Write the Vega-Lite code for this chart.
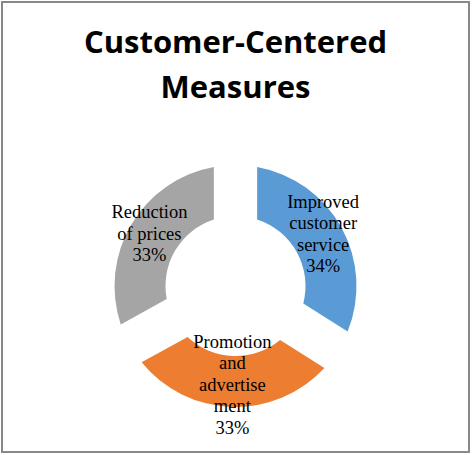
{
  "$schema": "https://vega.github.io/schema/vega-lite/v6.json",
  "width": 467,
  "height": 450,
  "autosize": "none",
  "padding": {"left": 2, "top": 2, "right": 3, "bottom": 3},
  "background": "white",
  "config": {"view": {"stroke": null}},
  "title": {
    "text": ["Customer-Centered", "Measures"],
    "font": "Open Sans",
    "fontSize": 31,
    "fontWeight": "bold",
    "color": "black",
    "lineHeight": 45,
    "anchor": "middle",
    "frame": "group",
    "baseline": "alphabetic",
    "offset": -128
  },
  "data": {
    "values": [
      {"category": "Improved customer service", "wrapped": "Improved|customer|service", "share": 34},
      {"category": "Promotion and advertisement", "wrapped": "Promotion|and|advertise|ment", "share": 33},
      {"category": "Reduction of prices", "wrapped": "Reduction|of prices", "share": 33}
    ]
  },
  "transform": [
    {"calculate": "datum.wrapped + '|' + datum.share + '%'", "as": "label"}
  ],
  "encoding": {
    "theta": {"field": "share", "type": "quantitative", "stack": true},
    "order": {"field": "category", "type": "nominal", "sort": "ascending"}
  },
  "layer": [
    {
      "mark": {"type": "rect", "fill": null, "stroke": "#878787", "strokeWidth": 1.5},
      "encoding": {"theta": null, "order": null}
    },
    {
      "mark": {"type": "arc", "innerRadius": 70, "outerRadius": 121, "padAngle": 0.311, "yOffset": 59},
      "encoding": {
        "color": {
          "field": "category",
          "type": "nominal",
          "scale": {
            "domain": ["Improved customer service", "Promotion and advertisement", "Reduction of prices"],
            "range": ["#5B9BD5", "#ED7D31", "#A5A5A5"]
          },
          "legend": null
        }
      }
    },
    {
      "mark": {"type": "text", "radius": 100, "yOffset": 59, "dy": -36, "font": "Liberation Serif", "fontSize": 18.5, "lineHeight": 21.5, "lineBreak": "|", "color": "black"},
      "encoding": {
        "detail": {"field": "category", "type": "nominal"},
        "text": {"condition": {"test": "datum.category === 'Improved customer service'", "field": "label"}, "value": ""}
      }
    },
    {
      "mark": {"type": "text", "radius": 100, "yOffset": 59, "dy": -44, "font": "Liberation Serif", "fontSize": 18.5, "lineHeight": 21.5, "lineBreak": "|", "color": "black"},
      "encoding": {
        "detail": {"field": "category", "type": "nominal"},
        "text": {"condition": {"test": "datum.category === 'Promotion and advertisement'", "field": "label"}, "value": ""}
      }
    },
    {
      "mark": {"type": "text", "radius": 100, "yOffset": 59, "dy": -23, "font": "Liberation Serif", "fontSize": 18.5, "lineHeight": 21.5, "lineBreak": "|", "color": "black"},
      "encoding": {
        "detail": {"field": "category", "type": "nominal"},
        "text": {"condition": {"test": "datum.category === 'Reduction of prices'", "field": "label"}, "value": ""}
      }
    }
  ]
}
